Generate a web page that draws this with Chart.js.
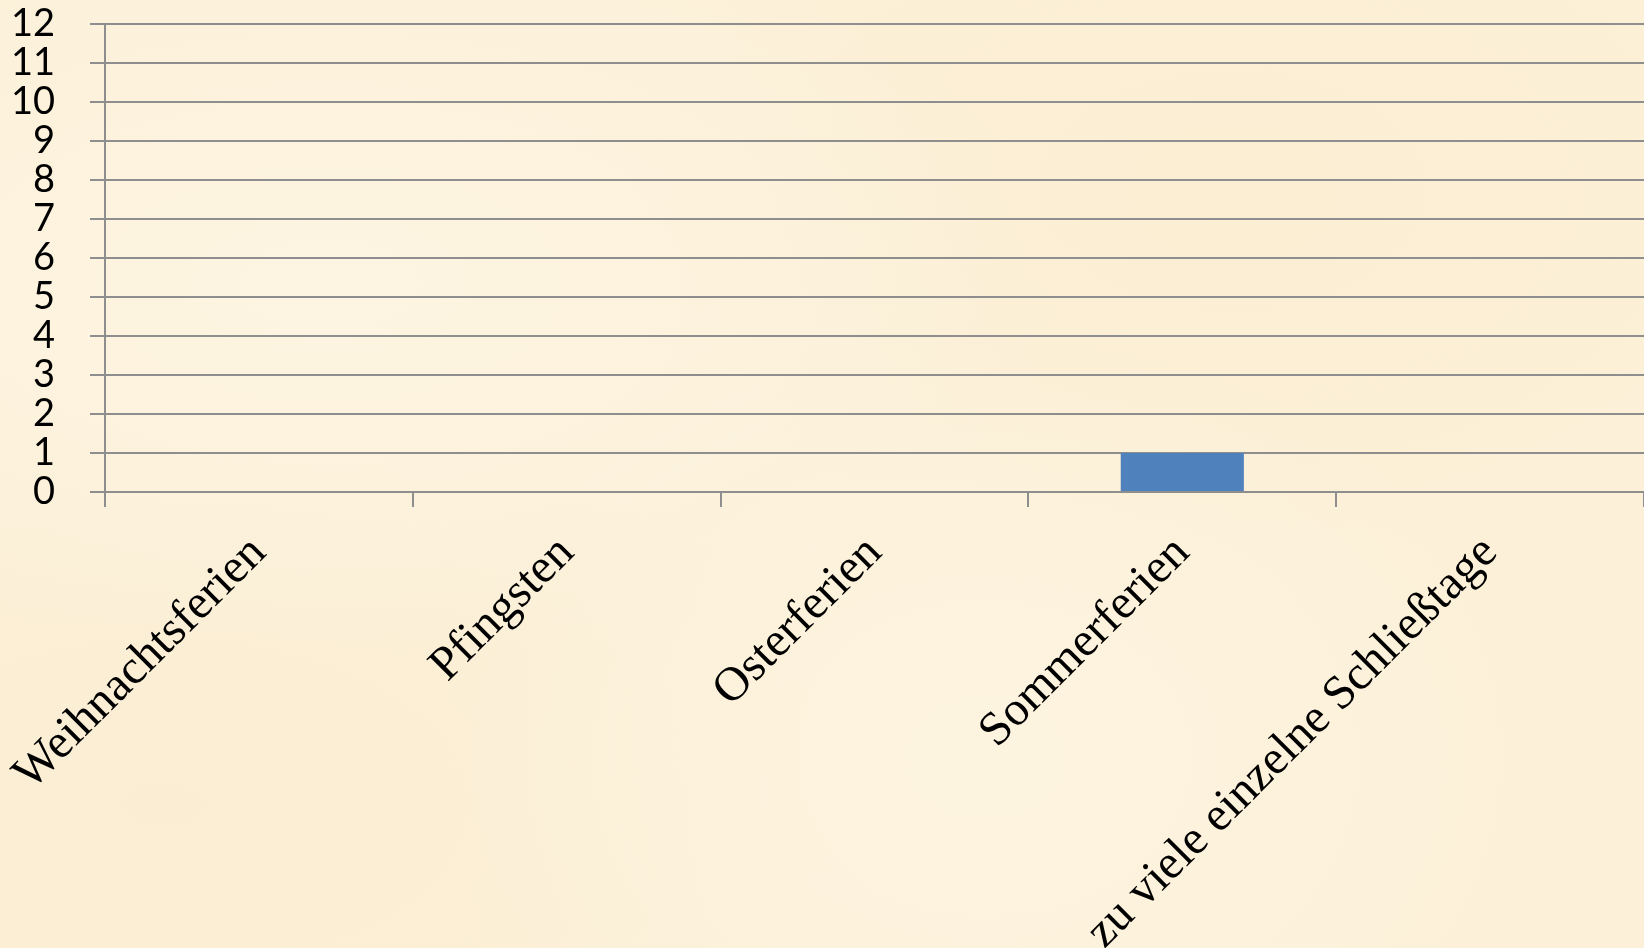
<!DOCTYPE html>
<html>
<head>
<meta charset="utf-8">
<script src="https://cdn.jsdelivr.net/npm/chart.js@4/dist/chart.umd.min.js"></script>
<style>
  html, body { margin: 0; padding: 0; overflow: hidden; }
  body {
    width: 1644px; height: 948px;
    background-color: #fcf0d8;
    background-image:
      radial-gradient(ellipse at 20% 30%, rgba(255,250,236,0.5), rgba(255,250,236,0) 40%),
      radial-gradient(ellipse at 75% 20%, rgba(248,234,202,0.35), rgba(248,234,202,0) 35%),
      radial-gradient(ellipse at 60% 80%, rgba(255,248,232,0.5), rgba(255,248,232,0) 40%),
      radial-gradient(ellipse at 10% 85%, rgba(247,233,203,0.35), rgba(247,233,203,0) 35%);
  }
  #wrap { position: absolute; left: 0; top: 0; width: 1644px; height: 948px; }
</style>
</head>
<body>
<div id="wrap"><canvas id="c"></canvas></div>
<script>
const categories = ["Weihnachtsferien", "Pfingsten", "Osterferien", "Sommerferien", "zu viele einzelne Schließtage"];
const values = [0, 0, 0, 1, 0];
const yTicks = [0, 1, 2, 3, 4, 5, 6, 7, 8, 9, 10, 11, 12];

const gridColor = '#8e8e8e';

new Chart(document.getElementById('c'), {
  type: 'bar',
  data: {
    labels: categories,
    datasets: [{
      data: values,
      backgroundColor: '#4f81bd',
      borderWidth: 0,
      barPercentage: 0.4,
      categoryPercentage: 1.0
    }]
  },
  options: {
    responsive: true,
    maintainAspectRatio: false,
    animation: false,
    layout: { padding: { left: 0, right: 0, top: 0, bottom: 0 } },
    plugins: { legend: { display: false }, tooltip: { enabled: false } },
    scales: {
      x: {
        offset: true,
        grid: { display: true, drawOnChartArea: false, drawTicks: true, tickLength: 15, color: gridColor, lineWidth: 2, offset: true },
        border: { display: true, color: gridColor, width: 2 },
        ticks: {
          autoSkip: false,
          maxRotation: 45, minRotation: 45,
          padding: 18,
          color: '#000',
          font: { family: '"Liberation Serif", "Times New Roman", serif', size: 48 }
        },
        afterFit: (s) => { s.height = 456; s.paddingLeft = 0; s.paddingRight = 0; }
      },
      y: {
        min: 0, max: 12,
        afterBuildTicks: (s) => { s.ticks = yTicks.map(v => ({ value: v })); },
        grid: { color: gridColor, lineWidth: 2, tickLength: 15, drawTicks: true },
        border: { display: true, color: gridColor, width: 2 },
        ticks: {
          autoSkip: false,
          padding: 35,
          color: '#000',
          font: { family: 'Lato, "Open Sans", sans-serif', size: 38 }
        },
        afterFit: (s) => { s.width = 105; s.paddingTop = 23.5; s.paddingBottom = 0; }
      }
    }
  }
});
</script>
</body>
</html>
